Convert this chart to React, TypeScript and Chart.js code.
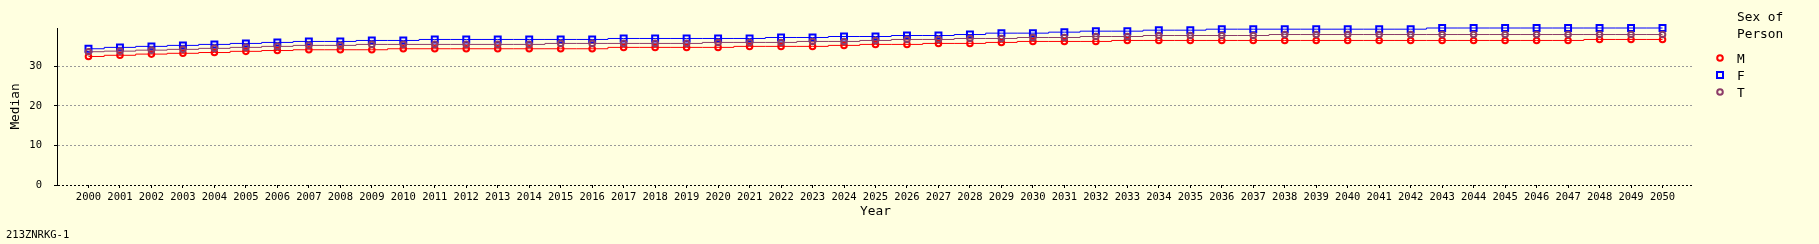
import React, { useEffect, useRef } from "react";
import { Chart, registerables } from "chart.js";

Chart.register(...registerables);

const years: number[] = [
  2000, 2001, 2002, 2003, 2004, 2005, 2006, 2007, 2008, 2009,
  2010, 2011, 2012, 2013, 2014, 2015, 2016, 2017, 2018, 2019,
  2020, 2021, 2022, 2023, 2024, 2025, 2026, 2027, 2028, 2029,
  2030, 2031, 2032, 2033, 2034, 2035, 2036, 2037, 2038, 2039,
  2040, 2041, 2042, 2043, 2044, 2045, 2046, 2047, 2048, 2049, 2050,
];

const maleMedian: number[] = [
  32.5, 32.8, 33.1, 33.3, 33.5, 33.8, 34.0, 34.2, 34.2, 34.2,
  34.45, 34.45, 34.45, 34.45, 34.45, 34.45, 34.45, 34.8, 34.8, 34.8,
  34.8, 35.05, 35.05, 35.05, 35.3, 35.55, 35.55, 35.8, 35.8, 36.05,
  36.3, 36.3, 36.3, 36.55, 36.55, 36.55, 36.55, 36.55, 36.55, 36.55,
  36.55, 36.55, 36.55, 36.55, 36.55, 36.55, 36.55, 36.55, 36.8, 36.8, 36.8,
];

const femaleMedian: number[] = [
  34.45, 34.8, 35.05, 35.3, 35.55, 35.8, 36.05, 36.3, 36.3, 36.55,
  36.55, 36.8, 36.8, 36.8, 36.8, 36.8, 36.8, 37.05, 37.05, 37.05,
  37.05, 37.05, 37.3, 37.3, 37.55, 37.55, 37.8, 37.8, 38.05, 38.4,
  38.4, 38.65, 38.9, 38.9, 39.15, 39.15, 39.4, 39.4, 39.4, 39.4,
  39.4, 39.4, 39.4, 39.7, 39.7, 39.7, 39.7, 39.7, 39.7, 39.7, 39.7,
];

const totalMedian: number[] = [
  33.7, 33.85, 34.1, 34.3, 34.55, 34.8, 35.05, 35.3, 35.3, 35.55,
  35.55, 35.55, 35.55, 35.55, 35.55, 35.8, 35.8, 35.8, 35.8, 35.8,
  36.05, 36.05, 36.05, 36.3, 36.3, 36.55, 36.8, 36.8, 37.05, 37.05,
  37.3, 37.3, 37.55, 37.55, 37.8, 37.8, 37.8, 37.8, 38.05, 38.05,
  38.05, 38.05, 38.05, 38.05, 38.05, 38.05, 38.05, 38.05, 38.05, 38.05, 38.05,
];

const yTicks: number[] = [0, 10, 20, 30];
const seriesLabels: string[] = ["M", "F", "T"];
const seriesColors: string[] = ["#ff0000", "#0000ff", "#8c3c68"];
const seriesStyles: string[] = ["circle", "rect", "circle"];
const legendTitle: string[] = ["Sex of", "Person"];
const footnote = "213ZNRKG-1";

const MONO = "'DejaVu Sans Mono', monospace";
const BG = "#ffffe0";

export default function App() {
  const ref = useRef<HTMLCanvasElement | null>(null);

  useEffect(() => {
    document.body.style.margin = "0";
    document.body.style.background = BG;
    const canvas = ref.current;
    if (!canvas) return;

    const seriesValues = [maleMedian, femaleMedian, totalMedian];

    const bgPlugin = {
      id: "bg",
      beforeDraw(chart: any) {
        const ctx = chart.ctx;
        ctx.save();
        ctx.fillStyle = BG;
        ctx.fillRect(0, 0, chart.width, chart.height);
        ctx.restore();
      },
    };

    const legendPlugin = {
      id: "customLegend",
      afterDraw(chart: any) {
        const ctx = chart.ctx;
        ctx.save();
        ctx.fillStyle = "#000";
        ctx.textBaseline = "alphabetic";
        ctx.textAlign = "left";
        ctx.font = `12.8px ${MONO}`;
        const x0 = chart.chartArea.right + 43;
        ctx.fillText(legendTitle[0], x0, 21);
        ctx.fillText(legendTitle[1], x0, 38.3);
        const ds = chart.data.datasets;
        ds.forEach((d: any, i: number) => {
          const yb = 63.3 + i * 17;
          const cy = yb - 5.3;
          ctx.strokeStyle = d.borderColor;
          ctx.lineWidth = 2;
          ctx.beginPath();
          if (d.pointStyle === "rect") {
            ctx.rect(x0 - 20, cy - 3, 6, 6);
          } else {
            ctx.arc(x0 - 17, cy, 2.8, 0, Math.PI * 2);
          }
          ctx.stroke();
          ctx.fillStyle = "#000";
          ctx.fillText(d.label, x0, yb);
        });
        ctx.font = `10.5px ${MONO}`;
        ctx.fillText(footnote, 6, 238);
        ctx.restore();
      },
    };

    const chart = new Chart(canvas, {
      type: "line",
      data: {
        datasets: seriesLabels.map((label, i) => ({
          label,
          data: years.map((yr, j) => ({ x: yr, y: seriesValues[i][j] })),
          borderColor: seriesColors[i],
          backgroundColor: "rgba(0,0,0,0)",
          borderWidth: 1,
          stepped: "middle" as const,
          pointStyle: seriesStyles[i] as any,
          pointRadius: seriesStyles[i] === "rect" ? 4.2 : 2.8,
          pointBorderWidth: 2,
          pointBorderColor: seriesColors[i],
          pointBackgroundColor: "rgba(0,0,0,0)",
          order: 3 - i,
          clip: false as any,
        })),
      },
      options: {
        responsive: false,
        animation: false,
        devicePixelRatio: 1,
        layout: { padding: { top: 28, right: 125, left: 0, bottom: 0 } },
        plugins: {
          legend: { display: false },
          tooltip: { enabled: false },
          title: { display: false },
        },
        scales: {
          x: {
            type: "linear",
            min: 1999,
            max: 2051,
            afterBuildTicks: (scale: any) => {
              scale.ticks = years.map((v) => ({ value: v }));
            },
            afterFit: (scale: any) => {
              scale.height = 59;
            },
            ticks: {
              autoSkip: false,
              maxRotation: 0,
              minRotation: 0,
              padding: 3,
              color: "#000",
              font: { family: MONO, size: 10.5 },
              callback: (v: any) => String(v),
            },
            grid: {
              display: true,
              drawOnChartArea: false,
              drawTicks: true,
              tickLength: 3,
              tickColor: "#000",
            },
            border: { display: false },
            title: {
              display: true,
              text: "Year",
              color: "#000",
              font: { family: MONO, size: 12.8, lineHeight: 1.2 },
              padding: { top: 0, bottom: 25 },
            },
          },
          y: {
            type: "linear",
            min: 0,
            max: 39.7,
            afterBuildTicks: (scale: any) => {
              scale.ticks = yTicks.map((v) => ({ value: v }));
            },
            afterFit: (scale: any) => {
              scale.width = 57;
            },
            ticks: {
              padding: 12,
              color: "#000",
              font: { family: MONO, size: 10.5 },
              callback: (v: any) => String(v),
            },
            grid: {
              display: true,
              drawOnChartArea: true,
              drawTicks: true,
              tickLength: 3,
              tickColor: "#000",
              color: (ctx: any) => (ctx.tick && ctx.tick.value === 0 ? "#000" : "#999"),
              lineWidth: 1,
            },
            border: { display: true, color: "#000", width: 1, dash: [2, 2] },
            title: {
              display: true,
              text: "Median",
              color: "#000",
              font: { family: MONO, size: 12.8, lineHeight: 1.2 },
              padding: { top: 8, bottom: 0 },
            },
          },
        },
      },
      plugins: [bgPlugin, legendPlugin],
    } as any);

    return () => chart.destroy();
  }, []);

  return (
    <div style={{ width: 1819, height: 244, background: BG }}>
      <canvas ref={ref} width={1819} height={244} style={{ display: "block" }} />
    </div>
  );
}
